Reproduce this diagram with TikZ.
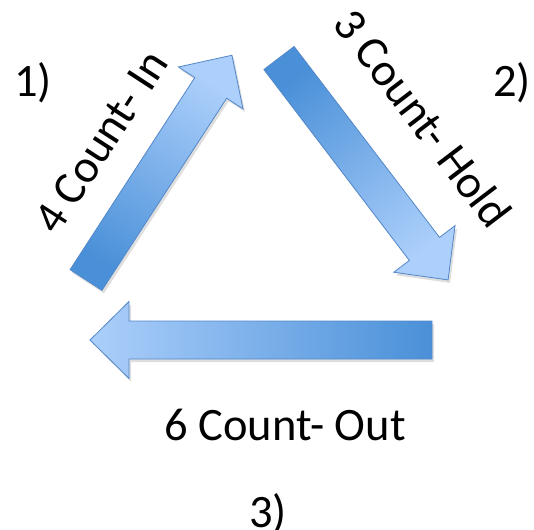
\documentclass[tikz,border=0pt]{standalone}
\usepackage{fontspec}
\setmainfont{Carlito}
\definecolor{arrlight}{RGB}{172,207,251}
\definecolor{arrdark}{RGB}{74,144,216}
\definecolor{arrborder}{RGB}{82,135,200}
\tikzset{
  arrowbody/.style={top color=arrlight, bottom color=arrdark, draw=arrborder, line width=0.8pt, line join=miter},
  arrowshadow/.style={fill=black, opacity=0.13},
  bigtext/.style={font=\fontsize{46.5}{56}\selectfont, inner sep=0pt, text=black}
}
% #1 x, #2 y (tail centre), #3 rotation, #4 length, #5 style
\newcommand\blockarr[5]{%
  \begin{scope}[shift={(#1,#2)}, rotate=#3]
    \path[#5] (0,-19) -- ({#4-39},-19) -- ({#4-39},-38.5) -- (#4,0)
      -- ({#4-39},38.5) -- ({#4-39},19) -- (0,19) -- cycle;
  \end{scope}}
\begin{document}
\begin{tikzpicture}[x=1pt,y=-1pt]
\useasboundingbox (0,0) rectangle (534,529);
% shadows
\blockarr{88}{283}{57}{268}{arrowshadow}
\blockarr{281}{61}{-52.7}{279}{arrowshadow}
\blockarr{434}{343}{180}{342}{arrowshadow}
% arrows
\blockarr{86}{280}{57}{268}{arrowbody, shading angle=-33}
\blockarr{279}{58}{-52.7}{279}{arrowbody, shading angle=-142.7}
\blockarr{432}{340}{180}{342}{arrowbody, shading angle=90}
% labels
\node[bigtext, anchor=base] (n1) at (33,97) {1)};
\node[bigtext, anchor=base] (n2) at (512,97) {2)};
\node[bigtext, anchor=base] (n3) at (268,527) {3)};
\node[bigtext, anchor=base] (out) at (285,440) {6 Count- Out};
\node[bigtext, rotate=57] (in) at (101,142) {4 Count- In};
\node[bigtext, rotate=-52.7] (hold) at (423,118) {3 Count- Hold};
\end{tikzpicture}
\end{document}
